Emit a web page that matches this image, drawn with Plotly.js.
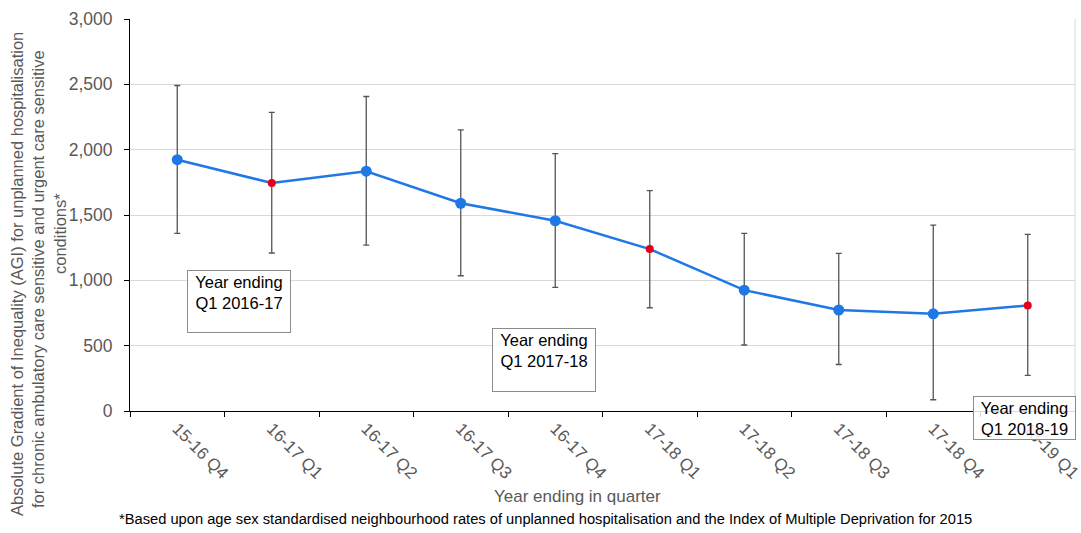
<!DOCTYPE html>
<html>
<head>
<meta charset="utf-8">
<script src="https://cdn.plot.ly/plotly-3.0.1.min.js"></script>
<style>html,body{margin:0;padding:0;background:#fff;}#chart{width:1081px;height:533px;}</style>
</head>
<body>
<div id="chart"></div>
<script>
// Data
const quarters = ['15-16 Q4','16-17 Q1','16-17 Q2','16-17 Q3','16-17 Q4','17-18 Q1','17-18 Q2','17-18 Q3','17-18 Q4','18-19 Q1'];
const agiValues = [1923, 1745, 1835, 1590, 1456, 1239, 925, 773, 744, 808];
const upperCI = [2491, 2285, 2407, 2152, 1970, 1686, 1359, 1206, 1422, 1351];
const lowerCI = [1359, 1209, 1270, 1035, 946, 790, 505, 356, 86, 272];
const highlighted = ['16-17 Q1', '17-18 Q1', '18-19 Q1'];
const yTicks = [0, 500, 1000, 1500, 2000, 2500, 3000];
const boxLabels = ['Year ending<br>Q1 2016-17', 'Year ending<br>Q1 2017-18', 'Year ending<br>Q1 2018-19'];
const yTitleLines = ['Absolute Gradient of Inequality (AGI) for unplanned hospitalisation',
  'for chronic ambulatory care sensitive and urgent care sensitive', 'conditions*'];
const xTitle = 'Year ending in quarter';
const footnote = '*Based upon age sex standardised neighbourhood rates of unplanned hospitalisation and the Index of Multiple Deprivation for 2015';

const BLUE = '#1f78e6';
const RED = '#e5001a';
const FONT = 'Liberation Sans, Arial, sans-serif';
const isHi = quarters.map(q => highlighted.includes(q));

const lineTrace = {
  type: 'scatter', mode: 'lines+markers',
  x: quarters, y: agiValues,
  line: {color: BLUE, width: 2.5},
  marker: {color: isHi.map(h => h ? RED : BLUE), size: isHi.map(h => h ? 8 : 11), opacity: 1, line: {width: 0}},
  error_y: {
    type: 'data', symmetric: false,
    array: upperCI.map((u, i) => u - agiValues[i]),
    arrayminus: lowerCI.map((l, i) => agiValues[i] - l),
    color: '#555555', thickness: 1.3, width: 3
  },
  hoverinfo: 'skip', showlegend: false
};

// pixel helpers for layout (plot area: x 130..1075, y 19..411)
const px = v => (v - 130) / 945;
const py = v => (411 - v) / 392;

const annotations = [];
const boxes = [
  {l: 187, t: 270, w: 98, h: 57},
  {l: 492, t: 328, w: 98, h: 58},
  {l: 973, t: 396, w: 97, h: 38}
];
boxes.forEach((b, i) => annotations.push({
  xref: 'paper', yref: 'paper', x: px(b.l), y: py(b.t), xanchor: 'left', yanchor: 'top',
  text: boxLabels[i], showarrow: false, align: 'center', valign: 'top',
  width: b.w, height: b.h, bgcolor: 'rgba(255,255,255,0.85)', bordercolor: '#8c8c8c', borderwidth: 1, borderpad: 2,
  font: {family: FONT, size: 16.5, color: '#000000'}
}));
const yTitlePos = [{x: 17, y: 274}, {x: 38, y: 279}, {x: 60, y: 234}];
yTitleLines.forEach((t, i) => annotations.push({
  xref: 'paper', yref: 'paper', x: px(yTitlePos[i].x), y: py(yTitlePos[i].y),
  xanchor: 'center', yanchor: 'middle', textangle: -90, text: t, showarrow: false,
  font: {family: FONT, size: 16.5, color: '#595959'}
}));
annotations.push({
  xref: 'paper', yref: 'paper', x: px(577), y: py(496), xanchor: 'center', yanchor: 'middle',
  text: xTitle, showarrow: false, font: {family: FONT, size: 17, color: '#595959'}
});
annotations.push({
  xref: 'paper', yref: 'paper', x: px(117), y: py(519), xanchor: 'left', yanchor: 'middle',
  text: footnote, showarrow: false, font: {family: FONT, size: 14.7, color: '#000000'}
});

const layout = {
  width: 1081, height: 533,
  margin: {l: 130, r: 6, t: 19, b: 122, pad: 0},
  paper_bgcolor: '#ffffff', plot_bgcolor: '#ffffff',
  font: {family: FONT, size: 17, color: '#595959'},
  xaxis: {
    type: 'category', tickson: 'boundaries', ticks: 'outside', ticklen: 5, tickcolor: '#000000',
    showline: true, linecolor: '#000000', linewidth: 1, showgrid: false, zeroline: false,
    tickangle: 45, tickfont: {family: FONT, size: 17, color: '#595959'},
    range: [-0.5, quarters.length - 0.5], fixedrange: true
  },
  yaxis: {
    range: [0, 3000], tickvals: yTicks, tickformat: ',', ticks: 'outside', ticklen: 5, tickcolor: '#000000',
    ticklabelstandoff: 8,
    showline: true, linecolor: '#000000', linewidth: 1, showgrid: true, gridcolor: '#d9d9d9', gridwidth: 1,
    zeroline: false, tickfont: {family: FONT, size: 17.5, color: '#595959'}, fixedrange: true
  },
  shapes: [{type: 'line', xref: 'paper', yref: 'paper', x0: 1, x1: 1, y0: 0, y1: 1, line: {color: '#d9d9d9', width: 1}}],
  annotations: annotations
};

Plotly.newPlot('chart', [lineTrace], layout, {staticPlot: true, displayModeBar: false});
</script>
</body>
</html>
